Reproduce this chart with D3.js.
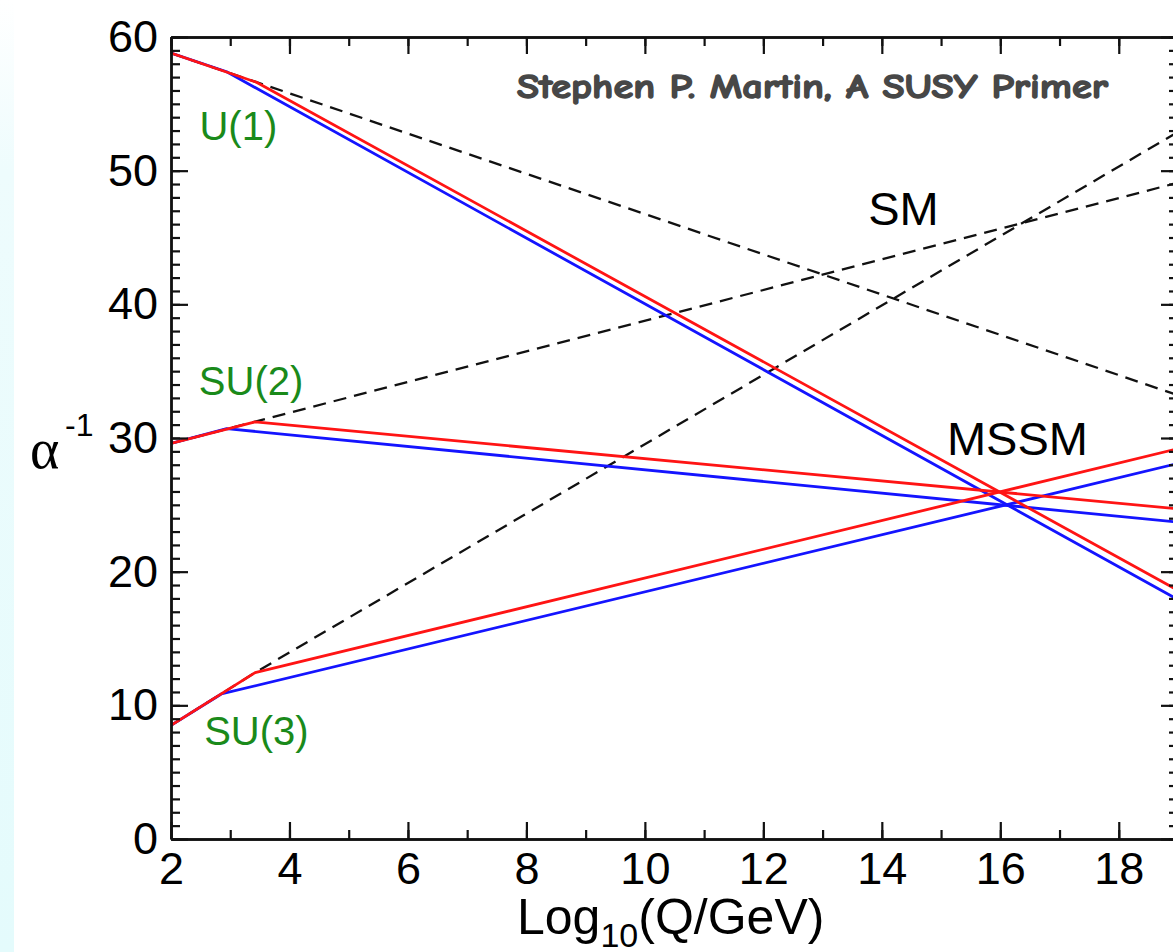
<!DOCTYPE html>
<html>
<head>
<meta charset="utf-8">
<script src="https://cdn.jsdelivr.net/npm/d3@7/dist/d3.min.js"></script>
<style>
  html, body { margin: 0; padding: 0; background: #ffffff; }
  svg { display: block; }
</style>
</head>
<body>
<svg id="chart" width="1173" height="952"></svg>
<script>
// Inverse gauge couplings vs. renormalisation scale, SM (dashed) and MSSM (red/blue)
// Each series is a polyline of [log10(Q/GeV), 1/alpha] points.
const u1SM   = [[2, 58.8], [19, 33.2]];
const u1Red  = [[2, 58.8], [3.45, 56.6], [19, 18.6]];
const u1Blue = [[2, 58.8], [2.94, 57.4], [19, 17.9]];

const su2SM   = [[2, 29.6], [19, 49.1]];
const su2Red  = [[2, 29.6], [3.42, 31.2], [19, 24.7]];
const su2Blue = [[2, 29.6], [2.94, 30.7], [19, 23.7]];

const su3SM   = [[2, 8.5], [3.42, 12.45], [19, 52.9]];
const su3Red  = [[2, 8.5], [3.42, 12.45], [19, 29.2]];
const su3Blue = [[2, 8.5], [2.85, 10.85], [19, 28.1]];

const xMajorTicks = [2, 4, 6, 8, 10, 12, 14, 16, 18];
const xMinorTicks = d3.range(2, 20, 1);
const yMajorTicks = [0, 10, 20, 30, 40, 50, 60];
const yMinorTicks = d3.range(0, 61, 1);

const groupLabels = [
  { text: "U(1)",  x: 2.48, y: 52.3 },
  { text: "SU(2)", x: 2.47, y: 33.2 },
  { text: "SU(3)", x: 2.56, y: 7.0 }
];
const modelLabels = [
  { text: "SM",   x: 13.77, y: 45.9 },
  { text: "MSSM", x: 15.1,  y: 28.7 }
];

const svg = d3.select("#chart");
const W = 1173, H = 952;
const plotL = 171, plotR = 1178, plotT = 37, plotB = 839;

const x = d3.scaleLinear().domain([2, 19]).range([plotL, plotR]);
const y = d3.scaleLinear().domain([0, 60]).range([plotB, plotT]);

// faint cyan strip along the left edge
const defs = svg.append("defs");
const grad = defs.append("linearGradient").attr("id", "edgeGrad")
  .attr("x1", 0).attr("y1", 0).attr("x2", 0).attr("y2", 1);
grad.append("stop").attr("offset", "0%").attr("stop-color", "#ffffff");
grad.append("stop").attr("offset", "18%").attr("stop-color", "#eefcfd");
grad.append("stop").attr("offset", "100%").attr("stop-color", "#e4fbfc");
svg.append("rect").attr("x", 0).attr("y", 0).attr("width", 14).attr("height", H)
  .attr("fill", "url(#edgeGrad)");

defs.append("clipPath").attr("id", "plotClip")
  .append("rect").attr("x", plotL).attr("y", plotT)
  .attr("width", plotR - plotL).attr("height", plotB - plotT);

const line = d3.line().x(d => x(d[0])).y(d => y(d[1]));
const plot = svg.append("g").attr("clip-path", "url(#plotClip)");

// SM curves (dashed, underneath)
[u1SM, su2SM, su3SM].forEach(s => {
  plot.append("path").datum(s).attr("d", line)
    .attr("fill", "none").attr("stroke", "#111").attr("stroke-width", 2.3)
    .attr("stroke-dasharray", "13,8");
});
// MSSM curves
[u1Blue, su2Blue, su3Blue].forEach(s => {
  plot.append("path").datum(s).attr("d", line)
    .attr("fill", "none").attr("stroke", "#1414ff").attr("stroke-width", 2.8)
    .attr("stroke-linejoin", "round");
});
[u1Red, su2Red, su3Red].forEach(s => {
  plot.append("path").datum(s).attr("d", line)
    .attr("fill", "none").attr("stroke", "#ff1414").attr("stroke-width", 2.8)
    .attr("stroke-linejoin", "round");
});

// axes: ticks point inward on all four sides
const tickFont = "'Liberation Sans', Arial, Helvetica, sans-serif";
function styleAxis(g) {
  g.selectAll("path.domain").attr("stroke", "#111").attr("stroke-width", 2.4);
  g.selectAll(".tick line").attr("stroke", "#111").attr("stroke-width", 2.2);
  g.selectAll(".tick text").attr("fill", "#000")
    .style("font-family", tickFont).style("font-size", "45px");
}

// minor ticks
svg.append("g").attr("transform", `translate(0,${plotB})`)
  .call(d3.axisBottom(x).tickValues(xMinorTicks).tickSize(-9).tickSizeOuter(0).tickFormat(""))
  .call(styleAxis);
svg.append("g").attr("transform", `translate(0,${plotT})`)
  .call(d3.axisTop(x).tickValues(xMinorTicks).tickSize(-9).tickSizeOuter(0).tickFormat(""))
  .call(styleAxis);
svg.append("g").attr("transform", `translate(${plotL},0)`)
  .call(d3.axisLeft(y).tickValues(yMinorTicks).tickSize(-9).tickSizeOuter(0).tickFormat(""))
  .call(styleAxis);
svg.append("g").attr("transform", `translate(${plotR},0)`)
  .call(d3.axisRight(y).tickValues(yMinorTicks).tickSize(-9).tickSizeOuter(0).tickFormat(""))
  .call(styleAxis);

// major ticks with labels
svg.append("g").attr("transform", `translate(0,${plotB})`)
  .call(d3.axisBottom(x).tickValues(xMajorTicks).tickSize(-17).tickSizeOuter(0)
    .tickPadding(13).tickFormat(d3.format("d")))
  .call(styleAxis);
svg.append("g").attr("transform", `translate(0,${plotT})`)
  .call(d3.axisTop(x).tickValues(xMajorTicks).tickSize(-17).tickSizeOuter(0).tickFormat(""))
  .call(styleAxis);
svg.append("g").attr("transform", `translate(${plotL},0)`)
  .call(d3.axisLeft(y).tickValues(yMajorTicks).tickSize(-17).tickSizeOuter(0)
    .tickPadding(13).tickFormat(d3.format("d")))
  .call(styleAxis);
svg.append("g").attr("transform", `translate(${plotR},0)`)
  .call(d3.axisRight(y).tickValues(yMajorTicks).tickSize(-17).tickSizeOuter(0).tickFormat(""))
  .call(styleAxis);

// x-axis title
const xt = svg.append("text").attr("x", 517).attr("y", 934)
  .style("font-family", tickFont).style("font-size", "50px").attr("fill", "#000");
xt.append("tspan").text("Log");
xt.append("tspan").attr("dy", 13).style("font-size", "34px").text("10");
xt.append("tspan").attr("dy", -13).text("(Q/GeV)");

// y-axis title: alpha^-1
svg.append("text").attr("x", 30).attr("y", 468)
  .style("font-family", "'Liberation Serif', 'Times New Roman', serif")
  .style("font-size", "56px").attr("fill", "#000").text("α");
svg.append("text").attr("x", 65).attr("y", 436)
  .style("font-family", tickFont).style("font-size", "32px").attr("fill", "#000").text("-1");

// group labels
svg.selectAll("text.group").data(groupLabels).join("text").attr("class", "group")
  .attr("x", d => x(d.x)).attr("y", d => y(d.y))
  .style("font-family", tickFont).style("font-size", "40px")
  .attr("fill", "#1a8a1a").text(d => d.text);

svg.selectAll("text.model").data(modelLabels).join("text").attr("class", "model")
  .attr("x", d => x(d.x)).attr("y", d => y(d.y))
  .style("font-family", tickFont).style("font-size", "47px")
  .attr("fill", "#000").text(d => d.text);

// credit line
svg.append("text").attr("x", 517).attr("y", 98)
  .attr("textLength", 591).attr("lengthAdjust", "spacingAndGlyphs")
  .style("font-family", "'Comic Sans MS', 'Comic Neue', Lato, 'Open Sans', sans-serif")
  .style("font-weight", "900").style("font-size", "35px")
  .attr("fill", "#474747").attr("stroke", "#474747").attr("stroke-width", 1.4)
  .attr("stroke-linejoin", "round")
  .text("Stephen P. Martin, A SUSY Primer");
</script>
</body>
</html>
